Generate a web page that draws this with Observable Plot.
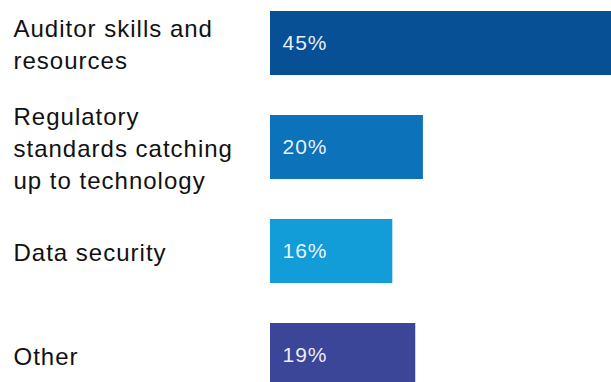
<!DOCTYPE html>
<html>
<head>
<meta charset="utf-8">
<script src="https://cdn.jsdelivr.net/npm/d3@7"></script>
<script src="https://cdn.jsdelivr.net/npm/@observablehq/plot@0.6"></script>
<style>
  html, body { margin: 0; padding: 0; background: #fff; overflow: hidden; }
</style>
</head>
<body>
<div id="chart"></div>
<script>
const categories = [
  "Auditor skills and\nresources",
  "Regulatory\nstandards catching\nup to technology",
  "Data security",
  "Other"
];
const values = [45, 20, 16, 19];
const colors = ["#075096", "#0c72ba", "#129dd8", "#3b4699"];

const data = categories.map((c, i) => ({label: c, value: values[i], color: colors[i]}));

const chart = Plot.plot({
  width: 611,
  height: 382,
  marginLeft: 0,
  marginRight: 0,
  marginTop: 0,
  marginBottom: 0,
  style: {fontFamily: "'Liberation Sans', Arial, sans-serif", letterSpacing: "1px", background: "white", overflow: "hidden"},
  x: {domain: [0, 45], range: [270, 614], axis: null},
  y: {domain: categories, range: [11, 387], paddingInner: 0.385, paddingOuter: 0, axis: null},
  color: {type: "identity"},
  marks: [
    Plot.barX(data, {x: "value", y: "label", fill: "color"}),
    Plot.text(data, {
      x: 0, y: "label", text: d => d.value + "%",
      dx: 12, textAnchor: "start", fill: "white", fillOpacity: 0.92,
      fontSize: 21
    }),
    Plot.text(data, {
      y: "label", text: "label", frameAnchor: "left",
      dx: 13, dy: -1, textAnchor: "start", lineHeight: 1.33,
      fontSize: 24, fill: "#111"
    })
  ]
});
document.getElementById("chart").appendChild(chart);
</script>
</body>
</html>
